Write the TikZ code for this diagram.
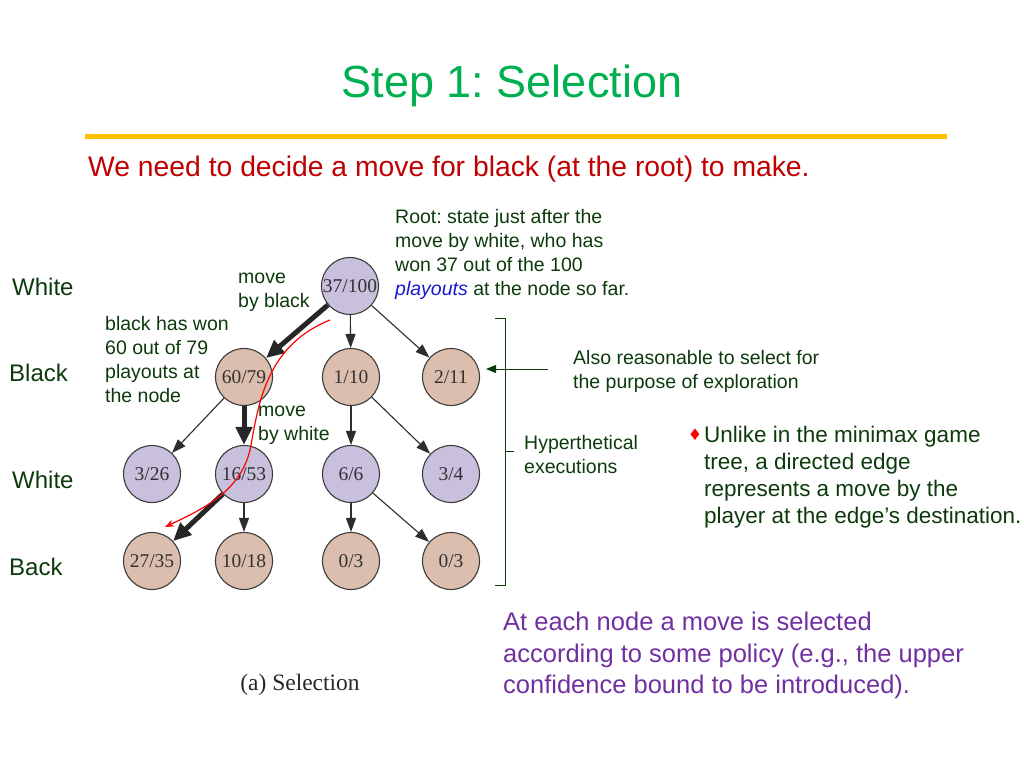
\documentclass[tikz,border=0pt]{standalone}
\usepackage{fontspec}
\setmainfont{Liberation Sans}
\newfontfamily\nodeserif{Liberation Serif}
\newfontfamily\symfont{DejaVu Sans}
\usetikzlibrary{arrows.meta}
\frenchspacing
\definecolor{titlegreen}{RGB}{0,176,80}
\definecolor{gold}{RGB}{255,192,0}
\definecolor{subred}{RGB}{192,0,0}
\definecolor{dkgreen}{RGB}{12,58,12}
\definecolor{pblue}{RGB}{25,25,205}
\definecolor{purp}{RGB}{112,48,160}
\definecolor{lilac}{RGB}{200,192,220}
\definecolor{tan}{RGB}{219,190,173}
\definecolor{nodeborder}{RGB}{60,60,60}
\definecolor{nodetext}{RGB}{50,50,50}
\definecolor{edgegray}{RGB}{45,45,45}
\begin{document}
\begin{tikzpicture}[x=1pt,y=-1pt,
  tnode/.style={circle, draw=nodeborder, line width=1.1pt, minimum size=57pt, inner sep=0pt,
    font=\nodeserif\fontsize{19.5}{19.5}\selectfont, text=nodetext},
  wnode/.style={tnode, fill=lilac},
  bnode/.style={tnode, fill=tan},
  edge/.style={draw=edgegray, line width=1.1pt, -{Triangle[length=14pt,width=10pt]}},
  thickedge/.style={draw=black!85, line width=5pt, -{Triangle[length=18pt,width=16pt]}},
  lbl/.style={text=dkgreen, font=\fontsize{19.5}{24}\selectfont, align=left, anchor=west, inner sep=0pt},
  side/.style={text=dkgreen, font=\fontsize{24}{24}\selectfont, anchor=west, inner sep=0pt},
  redcurve/.style={draw=red, line width=1.2pt, -{Stealth[length=9pt,width=7pt]}},
  bracket/.style={draw=dkgreen, line width=1pt}
]
\useasboundingbox (0,0) rectangle (1024,768);

% title and rule
\node[anchor=base, text=titlegreen, font=\fontsize{45}{45}\selectfont, inner sep=0pt] (title) at (512,97) {Step 1: Selection};
\coordinate (ruleL) at (85,136);
\coordinate (ruleR) at (947,136);
\draw[gold, line width=5pt] (ruleL) -- (ruleR);
\node[anchor=base west, text=subred, font=\fontsize{28.3}{28.3}\selectfont, inner sep=0pt] (sub) at (88,176) {We need to decide a move for black (at the root) to make.};

% tree nodes
\node[wnode] (root) at (350,286) {37/100};
\node[bnode] (b1) at (244,377) {60/79};
\node[bnode] (b2) at (351,377) {1/10};
\node[bnode] (b3) at (451,377) {2/11};
\node[wnode] (w1) at (152,474) {3/26};
\node[wnode] (w2) at (244,474) {16/53};
\node[wnode] (w3) at (351,474) {6/6};
\node[wnode] (w4) at (451,474) {3/4};
\node[bnode] (c1) at (152,561) {27/35};
\node[bnode] (c2) at (244,561) {10/18};
\node[bnode] (c3) at (351,561) {0/3};
\node[bnode] (c4) at (451,561) {0/3};

% edges
\draw[thickedge] (root) -- (b1);
\draw[edge] (root) -- (b2);
\draw[edge] (root) -- (b3);
\draw[edge] (b1) -- (w1);
\draw[thickedge] (b1) -- (w2);
\draw[edge] (b2) -- (w3);
\draw[edge] (b2) -- (w4);
\draw[thickedge] (w2) -- (c1);
\draw[edge] (w2) -- (c2);
\draw[edge] (w3) -- (c3);
\draw[edge] (w3) -- (c4);

% red selection path
\coordinate (r0) at (330,320);
\coordinate (r1) at (251,445);
\coordinate (r2) at (165,527);
\draw[redcurve] (r0) .. controls (268,345) and (259,400) .. (r1) .. controls (243,490) and (205,508) .. (r2);

% annotations
\node[lbl] (roottxt) at (395,254) {Root: state just after the\\move by white, who has\\won 37 out of the 100\\\textcolor{pblue}{\itshape playouts} at the node so far.};
\node[lbl] (mvblack) at (238,292.5) {move\\by black};
\node[lbl] (bwon) at (105,360) {black has won\\60 out of 79\\playouts at\\the node};
\node[lbl] (mvwhite) at (258,425) {move\\by white};
\node[lbl] (also) at (573,371) {Also reasonable to select for\\the purpose of exploration};
\node[lbl] (hyp) at (524,455) {Hyperthetical\\executions};

\node[side] (s1) at (12,287) {White};
\node[side] (s2) at (9,373) {Black};
\node[side] (s3) at (12,480) {White};
\node[side] (s4) at (9,567) {Back};

% bracket and arrow
\coordinate (bt0) at (495,318);
\coordinate (bt1) at (505,318);
\coordinate (bb1) at (505,585);
\coordinate (bb0) at (495,585);
\coordinate (bm0) at (505,451);
\coordinate (bm1) at (514,451);
\draw[bracket] (bt0) -- (bt1) -- (bb1) -- (bb0);
\draw[bracket] (bm0) -- (bm1);
\coordinate (aS) at (548,369);
\coordinate (aE) at (486,369);
\draw[bracket, -{Triangle[length=10pt,width=8pt]}] (aS) -- (aE);

% bullet note
\node[text=red, font=\symfont\fontsize{16}{16}\selectfont, inner sep=0pt] (bul) at (695,435) {♦};
\node[text=dkgreen, font=\fontsize{22.5}{27}\selectfont, align=left, anchor=west, inner sep=0pt] (unlike) at (704,477.5) {Unlike in the minimax game\\tree, a directed edge\\represents a move by the\\player at the edge’s destination.};

% purple note
\node[text=purp, font=\fontsize{25.5}{31.5}\selectfont, align=left, anchor=west, inner sep=0pt] (policy) at (503,655.5) {At each node a move is selected\\according to some policy (e.g., the upper\\confidence bound to be introduced).};

% caption
\node[text=black!85, font=\nodeserif\fontsize{23.5}{23.5}\selectfont, inner sep=0pt] (cap) at (300,685) {(a) Selection};
\end{tikzpicture}
\end{document}
